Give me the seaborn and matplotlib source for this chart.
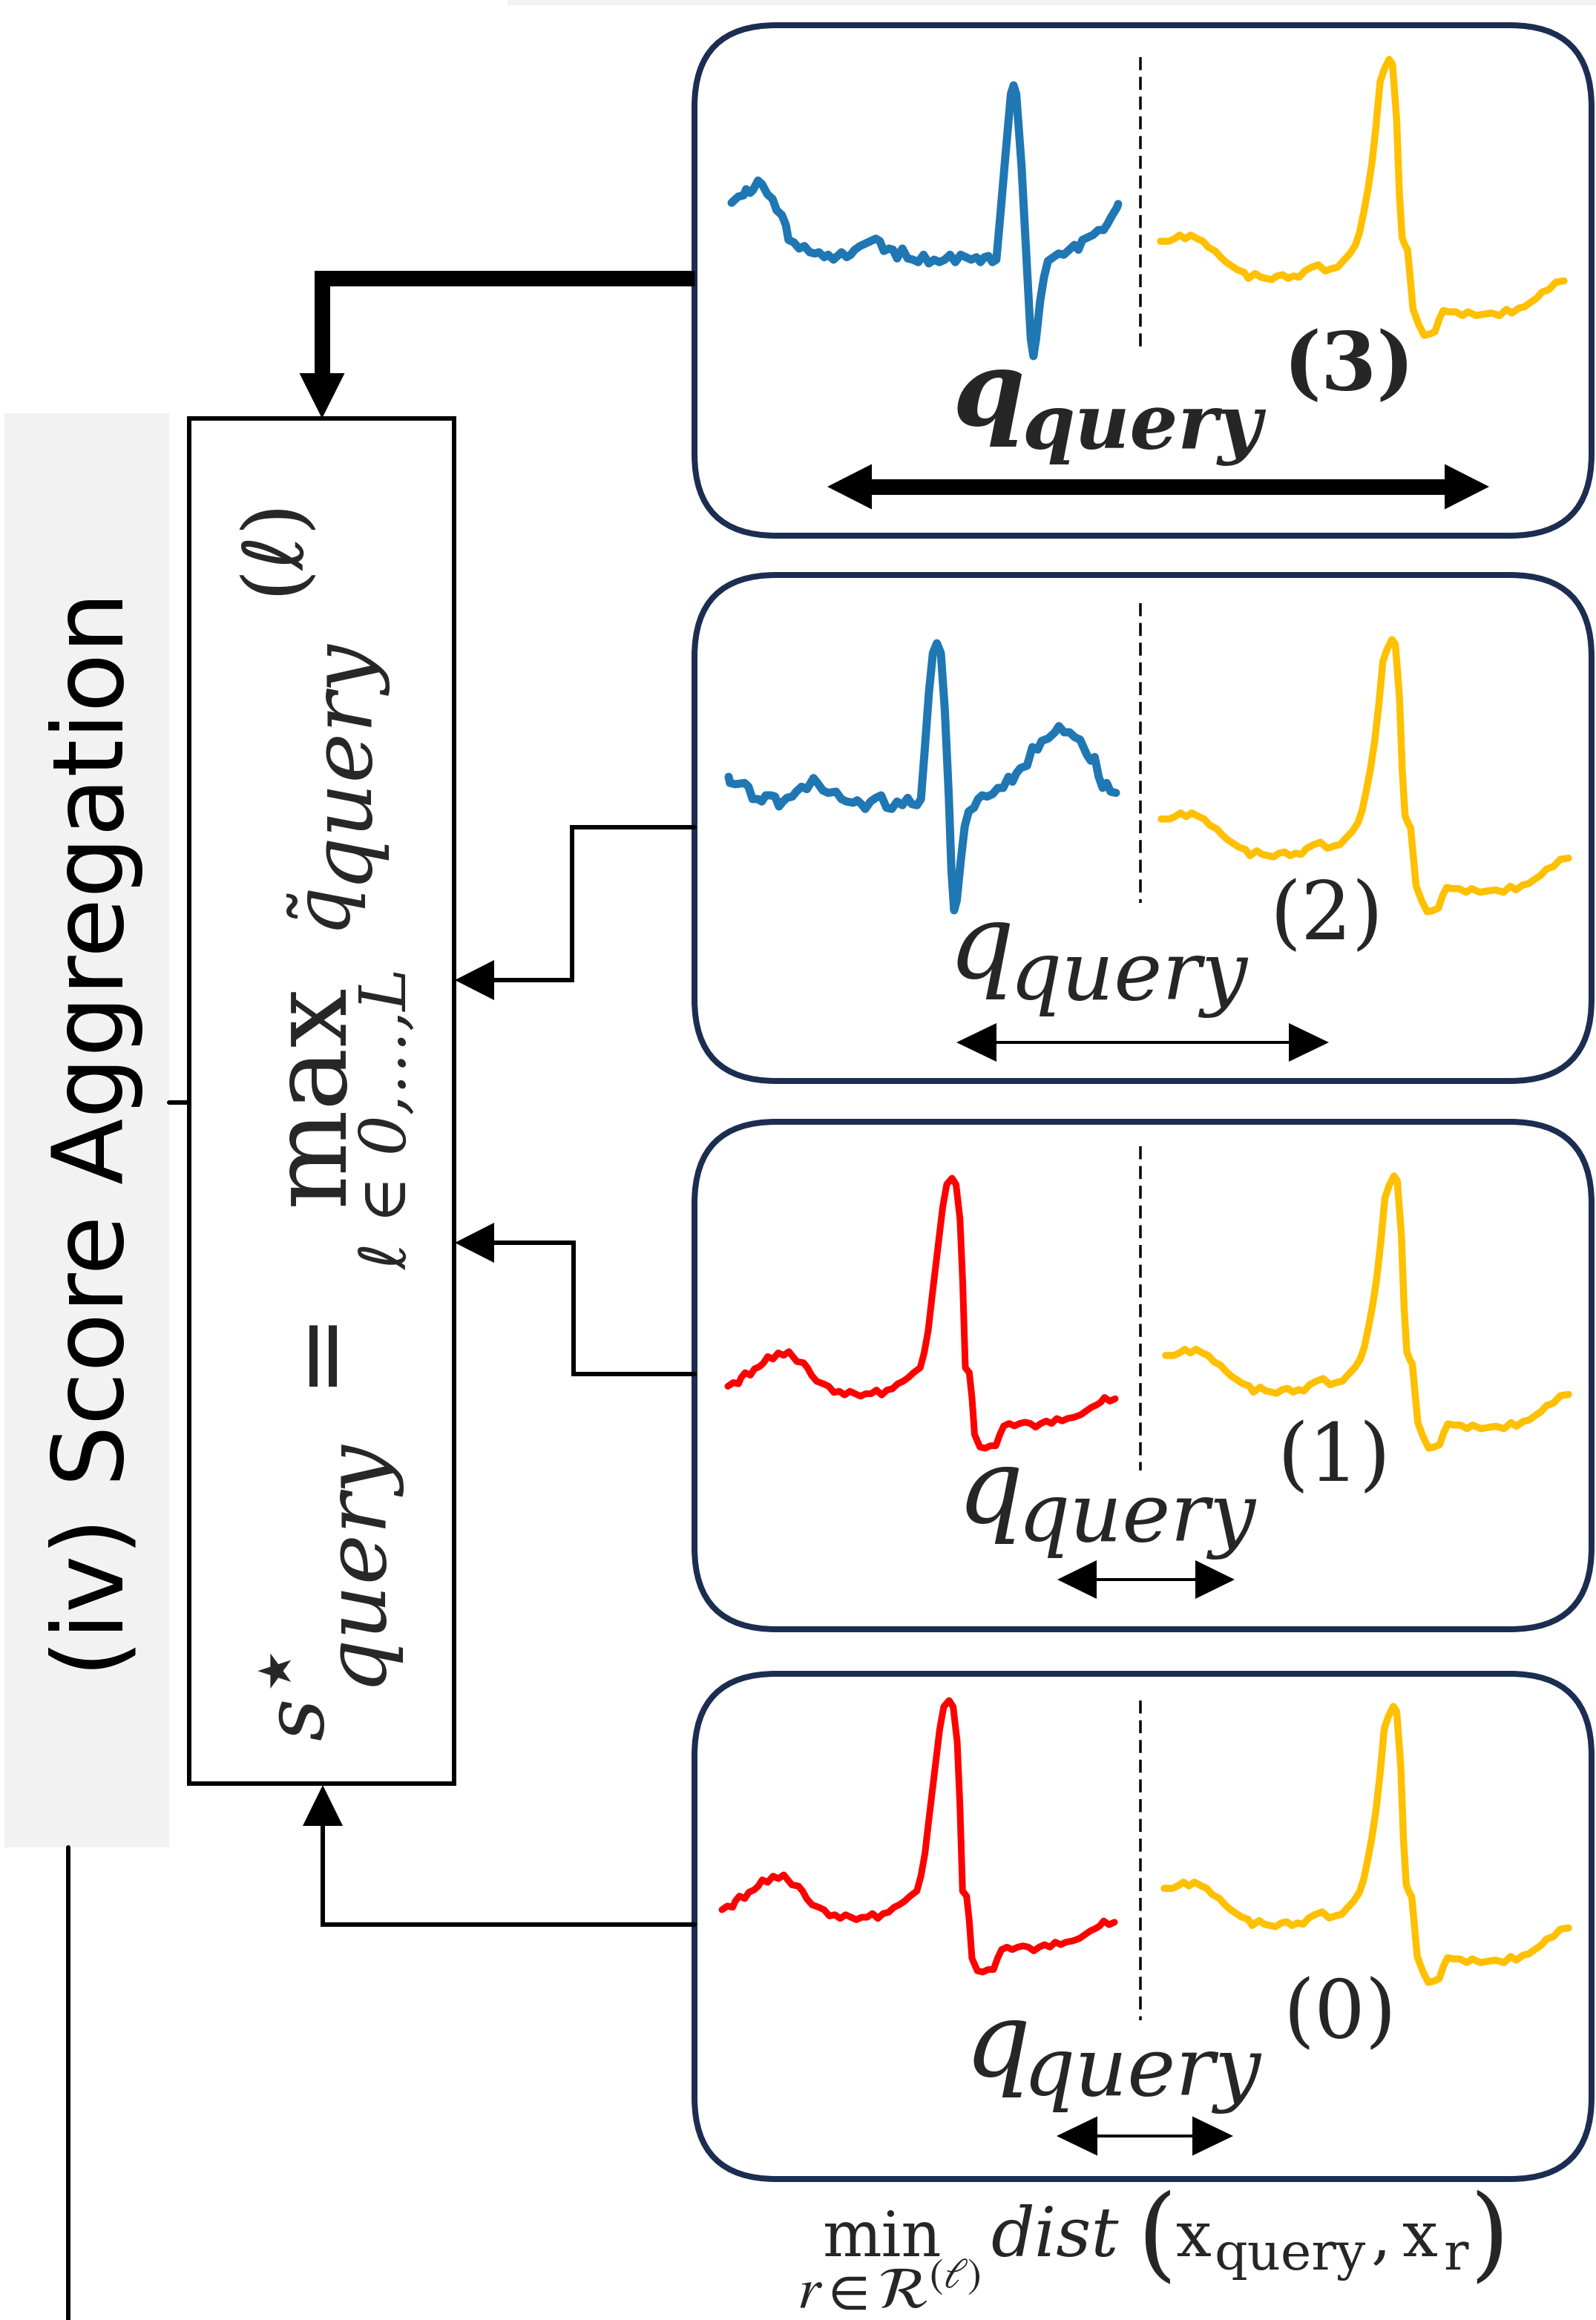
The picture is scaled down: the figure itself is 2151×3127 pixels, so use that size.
import matplotlib
matplotlib.use("Agg")
import matplotlib.pyplot as plt
from matplotlib.patches import FancyBboxPatch, Rectangle, Polygon
import seaborn as sns

W, H = 2151, 3127
PX = 0.72  # points per pixel at dpi 100

# ---- ECG traces (sample index, amplitude) ----
blue3_t = [4.5, 7, 9, 10, 11.5, 12.5, 14.5, 16, 18, 20, 21.5, 23.5, 25, 26, 28, 30, 32, 34, 36, 37.5,
           39.5, 41, 43, 44.5, 46, 48, 49.5, 51, 53, 55, 57, 59, 60.5, 62, 64, 65.5, 67, 69, 71, 73,
           75, 77, 79, 81, 83, 85, 87, 89, 91, 93, 95, 97, 98.5, 100, 101.5, 103, 104.5, 106, 108, 110,
           111, 112, 114, 116, 117.5, 118.5, 119.5, 121, 122.5, 124, 126, 128, 130, 132, 134, 135.5, 137, 139, 141, 143,
           145, 146.5, 148, 150, 150.5]
blue3_v = [230, 255, 260, 285, 270, 280, 320, 305, 265, 245, 200, 180, 140, 80, 70, 45, 55, 30, 25, 30,
           10, 20, 0, 15, 30, 10, 20, 40, 55, 65, 75, 85, 75, 35, 45, 40, 5, 45, 5, 0,
           -10, 20, -15, 0, -10, 0, 20, -10, 20, 10, 0, 10, -10, 10, 15, -10, 0, 180, 430, 670,
           705, 670, 380, -20, -320, -390, -320, -170, -70, -5, 10, 25, 20, 40, 60, 40, 80, 90, 100, 120,
           120, 145, 175, 210, 225]

blue2_t = [3.5, 4, 6, 9.5, 11, 12.5, 14.5, 16, 17.5, 19.5, 21, 22.5, 24, 25.5, 27.5, 29, 31, 33, 35.5, 37,
           39, 41, 44, 46, 48, 50.5, 52, 53.5, 55, 57, 59, 61, 63, 65, 67, 69, 71, 72.5, 74.5, 76,
           77.5, 79, 80.5, 82, 83.5, 85, 86.5, 87.5, 88.5, 89.5, 91, 92.5, 94, 96, 97.5, 99, 101, 103, 105, 107,
           109, 110.5, 112, 113.5, 116, 118, 120, 121.5, 124, 126.5, 128, 130, 132, 134, 136, 138.5, 140, 141.5, 143, 144.5,
           146, 147.5, 149.5]
blue2_v = [100, 75, 70, 75, 60, 10, 10, 0, 25, 25, 20, -20, 0, 15, 20, 40, 60, 50, 95, 75,
           45, 35, 40, 10, 0, -5, 5, -10, -30, 0, 15, 25, -25, -30, 0, -15, 15, -10, -15, 10,
           220, 440, 600, 640, 600, 370, 20, -280, -440, -400, -240, -100, -40, -25, 10, 25, 20, 30, 55, 55,
           100, 80, 115, 135, 145, 220, 210, 245, 255, 280, 305, 280, 280, 260, 250, 190, 165, 180, 100, 55,
           75, 40, 35]

red_t = [6, 8, 10, 11, 12.5, 14.5, 16, 18, 19.5, 21, 23, 25, 27, 29, 30.5, 32, 34.5, 36, 37.5, 39.5,
         42, 44, 46, 48, 50, 52, 54, 56, 58, 60, 62, 64, 66, 68, 70, 72, 74, 76, 78.5, 80,
         81.5, 83, 85, 87, 88.5, 90.5, 92, 93.5, 94.5, 95.5, 97, 98, 99, 101, 103, 105, 107, 108.5, 110, 112,
         114, 116, 118, 120, 122, 124, 126, 128, 130, 132, 134, 136.5, 139, 141, 143, 145, 146.5, 148, 150, 152]
red_v = [25, 40, 35, 60, 80, 70, 95, 105, 120, 145, 135, 160, 150, 165, 145, 125, 120, 100, 70, 45,
         35, 25, 0, 5, -10, 5, -5, -15, -5, -5, 10, -10, 10, 15, 35, 45, 60, 80, 100, 160,
         250, 390, 570, 750, 840, 865, 840, 700, 450, 100, 80, -20, -170, -220, -225, -215, -215, -170, -135, -125,
         -135, -125, -120, -125, -140, -125, -115, -125, -105, -115, -105, -100, -90, -75, -60, -50, -40, -20, -35, -25]

yellow_t = [2.5, 5.5, 7.5, 9.5, 11.5, 13.5, 16, 18, 20, 22.5, 24.5, 26.5, 28.5, 30.5, 33, 34.5, 37, 39, 41, 43,
            45, 47, 49, 51, 53, 55, 57.5, 60, 62.5, 65, 67, 69, 71.5, 73.5, 75, 76.5, 78, 79.5, 81, 82.5,
            84, 85.8, 87, 88.5, 89.5, 90.5, 91.5, 92.5, 93.5, 94.5, 96.5, 98.5, 100.5, 102.5, 104, 105.5, 107.5, 110, 112.5, 114.5,
            117.5, 120, 123, 126, 128.5, 130.5, 133, 135, 137.5, 139.5, 141.5, 144, 146.5, 149.5]
yellow_v = [125, 125, 135, 150, 135, 150, 135, 125, 100, 85, 60, 40, 25, 10, 0, -25, -5, -20, -25, -30,
            -15, -10, -25, -15, -20, 5, 20, 30, 5, 15, 20, 45, 75, 110, 160, 240, 330, 440, 590, 770,
            820, 860, 840, 620, 320, 140, 110, 90, -30, -150, -210, -255, -250, -240, -190, -155, -160, -160, -175, -160,
            -175, -170, -165, -175, -150, -165, -145, -140, -120, -105, -80, -70, -40, -35]

levels = ["3", "2", "1", "0"]

BLUE = "#1f77b4"
RED = "#ff0000"
GOLD = "#ffc000"
NAVY = "#1c2d52"
PANEL = "#f2f2f2"

sns.set_theme(style="white")
plt.rcParams["font.family"] = ["DejaVu Serif", "DejaVu Sans"]
plt.rcParams["mathtext.fontset"] = "dejavuserif"

fig = plt.figure(figsize=(W / 100, H / 100), dpi=100)
fig.patch.set_facecolor("white")
ax = fig.add_axes([0, 0, 1, 1])
ax.set_xlim(0, W)
ax.set_ylim(H, 0)
ax.axis("off")


def lw(px):
    return px * PX


def head(tip, direction, hl, hw):
    x, y = tip
    dx, dy = direction
    bx, by = x - dx * hl, y - dy * hl
    px_, py_ = -dy * hw / 2, dx * hw / 2
    ax.add_patch(Polygon([[x, y], [bx + px_, by + py_], [bx - px_, by - py_]],
                         closed=True, color="black", lw=0, zorder=5))


def double_arrow(x0, x1, y, shaft, hl, hw):
    ax.plot([x0 + hl * 0.6, x1 - hl * 0.6], [y, y], color="black", lw=lw(shaft),
            solid_capstyle="butt", zorder=5)
    head((x0, y), (-1, 0), hl, hw)
    head((x1, y), (1, 0), hl, hw)


def txt(x, y, s, px, **kw):
    kw.setdefault("ha", "left")
    kw.setdefault("va", "baseline")
    return ax.text(x, y, s, fontsize=px * PX, zorder=6, **kw)


def rtxt(x, y, s, px, **kw):
    return txt(x, y, s, px, rotation=90, rotation_mode="anchor", **kw)


# ---- background pieces ----
ax.add_patch(Rectangle((684, 0), W - 684, 7, color=PANEL, lw=0))
ax.add_patch(Rectangle((6, 557), 222, 1933, color=PANEL, lw=0))
ax.text(130, 1528, "(iv) Score Aggregation", rotation=90, ha="center", va="center",
        fontsize=94, family="DejaVu Sans", color="black")
ax.plot([228, 255], [1486, 1486], color="black", lw=lw(6))
ax.plot([92, 92], [2490, H + 5], color="black", lw=lw(6))

# aggregation box
ax.add_patch(Rectangle((255, 564), 357, 1840, fc="white", ec="black", lw=lw(6), zorder=3))

# ---- four query boxes ----
box_top = [34, 775, 1512, 2256]
box_bot = [722, 1457, 2196, 2937]
for t, b in zip(box_top, box_bot):
    ax.add_patch(FancyBboxPatch((936, t), 2145 - 936, b - t,
                                boxstyle="round,pad=0,rounding_size=110",
                                fc="white", ec=NAVY, lw=lw(8), zorder=2))

dash_span = [(77, 468), (813, 1217), (1545, 1982), (2292, 2723)]
for y0, y1 in dash_span:
    ax.plot([1537, 1537], [y0, y1], color="black", lw=lw(3.5), dashes=(5, 2.6), zorder=4)

# connectors to the aggregation box
ax.plot([936, 434, 434], [375, 375, 505], color="black", lw=lw(21),
        solid_joinstyle="miter", solid_capstyle="butt", zorder=4)
head((434, 564), (0, 1), 61, 61)
ax.plot([936, 771, 771, 662], [1115, 1115, 1321, 1321], color="black", lw=lw(6),
        solid_joinstyle="miter", zorder=4)
head((613, 1321), (-1, 0), 53, 54)
ax.plot([936, 773, 773, 662], [1852, 1852, 1675, 1675], color="black", lw=lw(6),
        solid_joinstyle="miter", zorder=4)
head((613, 1675), (-1, 0), 53, 54)
ax.plot([936, 435, 435], [2594, 2594, 2460], color="black", lw=lw(6),
        solid_joinstyle="miter", zorder=4)
head((435, 2406), (0, -1), 55, 54)

# ---- traces ----
traces = [
    (blue3_t, blue3_v, BLUE, 11, (986, 1507, 115, 480)),
    (yellow_t, yellow_v, GOLD, 9.5, (1564, 2108, 80, 452)),
    (blue2_t, blue2_v, BLUE, 11, (982, 1504, 867, 1227)),
    (yellow_t, yellow_v, GOLD, 9.5, (1565, 2114, 862, 1229)),
    (red_t, red_v, RED, 9, (981, 1503, 1588, 1952)),
    (yellow_t, yellow_v, GOLD, 9.5, (1571, 2114, 1585, 1952)),
    (red_t, red_v, RED, 9, (973, 1502, 2292, 2658)),
    (yellow_t, yellow_v, GOLD, 9.5, (1569, 2114, 2300, 2672)),
]
for t, v, col, w, (x0, x1, y0, y1) in traces:
    iax = fig.add_axes([x0 / W, 1 - y1 / H, (x1 - x0) / W, (y1 - y0) / H])
    iax.patch.set_alpha(0)
    sns.lineplot(x=t, y=v, ax=iax, color=col, linewidth=lw(w), errorbar=None)
    iax.set_xlim(min(t), max(t))
    iax.set_ylim(min(v), max(v))
    iax.axis("off")
    for ln in iax.lines:
        ln.set_clip_on(False)
        ln.set_solid_joinstyle("round")
        ln.set_solid_capstyle("round")

# ---- q_query^(l) labels and span arrows ----
q_pos = [(1284, 573), (1278, 1318), (1290, 2052), (1300, 2798)]
sub_pos = [(1378, 605), (1360, 1347), (1371, 2077), (1378, 2824)]
sup_pos = [(1730, 525), (1711, 1266), (1722, 1996), (1730, 2746)]
for i, lev in enumerate(levels):
    bold = i == 0
    wt = "bold" if bold else "normal"
    txt(*q_pos[i], "q", 140, style="italic", weight=wt)
    txt(*sub_pos[i], "query", 102 if bold else 110, style="italic", weight=wt)
    txt(*sup_pos[i], "(" + lev + ")", 108, weight=wt)

double_arrow(1115, 2007, 656, 21, 60, 61)
double_arrow(1289, 1791, 1405, 4, 54, 52)
double_arrow(1425, 1664, 2129, 4, 53, 52)
double_arrow(1424, 1662, 2879, 4, 55, 53)

# ---- aggregation formula (rotated) ----
rtxt(435, 2345, "s", 112, style="italic")
rtxt(390, 2275, "\u2605", 62, family="DejaVu Sans")
rtxt(510, 2272, "query", 115, style="italic")
rtxt(464, 1868, "=", 132, family="DejaVu Sans")
rtxt(462, 1625, "max", 142)
rtxt(548, 1712, "\u2113 \u2208 0,\u2026,L", 86, style="italic")
rtxt(471, 1262, r"$\tilde{q}$", 104)
rtxt(491, 1190, "query", 114, style="italic")
rtxt(401, 802, "(\u2113)", 112)

# ---- distance formula under the boxes ----
txt(1109, 3041, "min", 84)
txt(1074, 3112, r"$r{\in}\mathcal{R}^{(\ell)}$", 80, math_fontfamily="stix")
txt(1335, 3041, "dist", 92, style="italic")
txt(1532, 3057, "(", 138)
txt(1585, 3041, "x", 85)
txt(1637, 3059, "query", 70)
txt(1848, 3041, ",", 85)
txt(1890, 3041, "x", 85)
txt(1945, 3059, "r", 70)
txt(1980, 3057, ")", 138)

fig.savefig("out.png", dpi=100, facecolor="white")
